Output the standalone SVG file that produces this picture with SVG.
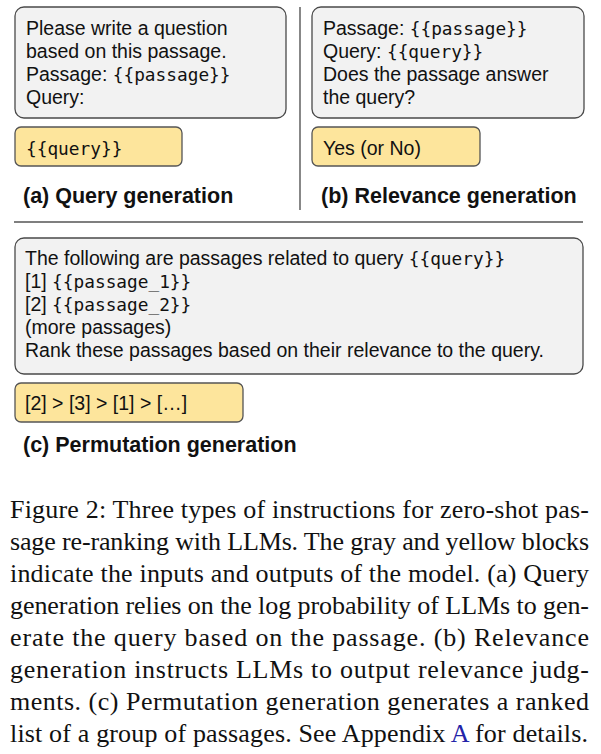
<svg xmlns="http://www.w3.org/2000/svg" width="601" height="754" viewBox="0 0 601 754">
<style>
.in{fill:#f2f2f2;stroke:#4a4a4a;stroke-width:1.3}
.out{fill:#fde59c;stroke:#555;stroke-width:1.3}
.t{font-family:"Liberation Sans",Arial,sans-serif;font-size:19.5px;fill:#111}
.m{font-family:"DejaVu Sans Mono",monospace;font-size:17.8px}
.h{font-family:"Liberation Sans",Arial,sans-serif;font-size:21.5px;font-weight:bold;fill:#111}
.sep{stroke:#555;stroke-width:1.4;fill:none}
.cap{font-family:"Liberation Serif","Times New Roman",serif;font-size:26px;fill:#111}
</style>
<rect width="601" height="754" fill="#fff"/>
<g id="separators">
<line class="sep" x1="300" y1="7" x2="300" y2="210"/>
<line class="sep" x1="14" y1="222" x2="583" y2="222" stroke="#777"/>
</g>
<g id="a-input">
<rect class="in" x="15" y="7" width="271" height="111" rx="9"/>
<text class="t" x="26" y="35">Please write a question</text>
<text class="t" x="26" y="58">based on this passage.</text>
<text class="t" x="26" y="81">Passage: <tspan class="m">{{passage}}</tspan></text>
<text class="t" x="26" y="104">Query:</text>
</g>
<g id="a-output">
<rect class="out" x="15" y="127" width="167" height="39" rx="6"/>
<text class="t" x="26" y="155"><tspan class="m">{{query}}</tspan></text>
</g>
<text id="a-title" class="h" x="23" y="203">(a) Query generation</text>
<g id="b-input">
<rect class="in" x="312" y="7" width="272" height="111" rx="9"/>
<text class="t" x="323" y="35">Passage: <tspan class="m">{{passage}}</tspan></text>
<text class="t" x="323" y="58">Query: <tspan class="m">{{query}}</tspan></text>
<text class="t" x="323" y="81">Does the passage answer</text>
<text class="t" x="323" y="104">the query?</text>
</g>
<g id="b-output">
<rect class="out" x="312" y="127" width="168" height="39" rx="6"/>
<text class="t" x="323" y="155">Yes (or No)</text>
</g>
<text id="b-title" class="h" x="321" y="203">(b) Relevance generation</text>
<g id="c-input">
<rect class="in" x="15" y="238" width="568" height="136" rx="9"/>
<text class="t" x="25" y="265">The following are passages related to query <tspan class="m">{{query}}</tspan></text>
<text class="t" x="25" y="288">[1] <tspan class="m">{{passage_1}}</tspan></text>
<text class="t" x="25" y="311">[2] <tspan class="m">{{passage_2}}</tspan></text>
<text class="t" x="25" y="334">(more passages)</text>
<text class="t" x="25" y="357">Rank these passages based on their relevance to the query.</text>
</g>
<g id="c-output">
<rect class="out" x="15" y="383" width="228" height="39" rx="6"/>
<text class="t" x="25" y="410">[2] &gt; [3] &gt; [1] &gt; […]</text>
</g>
<text id="c-title" class="h" x="23" y="452">(c) Permutation generation</text>
<g id="caption">
<text class="cap" x="10" y="518" textLength="579" lengthAdjust="spacing">Figure 2: Three types of instructions for zero-shot pas-</text>
<text class="cap" x="10" y="550" textLength="579" lengthAdjust="spacing">sage re-ranking with LLMs. The gray and yellow blocks</text>
<text class="cap" x="10" y="582" textLength="579" lengthAdjust="spacing">indicate the inputs and outputs of the model. (a) Query</text>
<text class="cap" x="10" y="614" textLength="579" lengthAdjust="spacing">generation relies on the log probability of LLMs to gen-</text>
<text class="cap" x="10" y="646" textLength="579" lengthAdjust="spacing">erate the query based on the passage.  (b) Relevance</text>
<text class="cap" x="10" y="678" textLength="579" lengthAdjust="spacing">generation instructs LLMs to output relevance judg-</text>
<text class="cap" x="10" y="710" textLength="579" lengthAdjust="spacing">ments. (c) Permutation generation generates a ranked</text>
<text class="cap" x="10" y="742" textLength="578" lengthAdjust="spacing">list of a group of passages. See Appendix <tspan fill="#2323a8">A</tspan> for details.</text>
</g>
</svg>
